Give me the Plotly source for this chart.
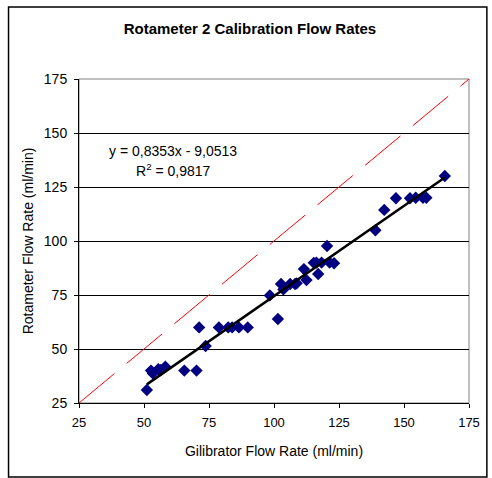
import plotly.graph_objects as go

gilibrator = [51.1, 52.7, 53.4, 55.5, 56.5, 58.2, 65.5, 70.2, 71.2, 73.7, 78.8, 82.4, 83.9, 86.5, 89.9,
              98.4, 101.5, 102.7, 103.6, 106.2, 108.1, 108.7, 111.5, 112.5, 115.3, 116.3, 117.0, 118.3,
              120.4, 121.4, 123.1, 139.0, 142.4, 146.9, 152.3, 154.5, 157.3, 158.6, 165.7]
rotameter = [31.0, 40.0, 38.7, 40.6, 40.3, 41.8, 40.0, 40.0, 60.0, 51.4, 60.0, 60.0, 60.0, 60.0, 60.0,
             74.8, 63.9, 80.1, 77.6, 80.1, 80.1, 80.4, 87.0, 81.9, 89.9, 90.0, 84.7, 90.0,
             97.7, 90.0, 89.7, 105.0, 114.4, 119.8, 119.8, 120.0, 120.0, 120.0, 130.1]
slope = 0.8353
intercept = -9.0513
axis_ticks = [25, 50, 75, 100, 125, 150, 175]

fit_x = [min(gilibrator), max(gilibrator)]
fit_y = [slope * v + intercept for v in fit_x]

FONT = "Liberation Sans, Arial, sans-serif"

fig = go.Figure()
fig.add_trace(go.Scatter(x=[25, 175], y=[25, 175], mode="lines",
                         line=dict(color="#ff0000", width=1, dash="46px,16px"),
                         showlegend=False, hoverinfo="skip"))
fig.add_trace(go.Scatter(x=gilibrator, y=rotameter, mode="markers",
                         marker=dict(symbol="diamond", size=9.5, color="#000080"),
                         showlegend=False))
fig.add_trace(go.Scatter(x=fit_x, y=fit_y, mode="lines",
                         line=dict(color="#000000", width=2.5),
                         showlegend=False, hoverinfo="skip"))

fig.update_layout(
    width=492, height=478,
    margin=dict(l=79, r=20, t=79, b=75),
    paper_bgcolor="white", plot_bgcolor="white",
    font=dict(family=FONT, size=13, color="#000000"),
    title=dict(text="<b>Rotameter 2 Calibration Flow Rates</b>",
               x=0.508, xref="container", xanchor="center",
               y=1 - 29 / 478, yref="container", yanchor="middle",
               font=dict(family=FONT, size=15, color="#000000")),
    xaxis=dict(range=[25, 175], tickvals=axis_ticks, showgrid=False, zeroline=False,
               showline=True, linecolor="#000000", linewidth=1, mirror=False,
               ticks="outside", ticklen=4, tickcolor="#000000", ticklabelstandoff=3,
               tickfont=dict(size=13), title=dict(text="Gilibrator Flow Rate (ml/min)",
                                                  standoff=17, font=dict(size=14))),
    yaxis=dict(range=[25, 175], tickvals=axis_ticks, showgrid=True, gridcolor="#000000",
               gridwidth=1, zeroline=False,
               showline=True, linecolor="#000000", linewidth=1,
               ticks="outside", ticklen=4, tickcolor="#000000", ticklabelstandoff=4,
               tickfont=dict(size=14), title=dict(text="Rotameter Flow Rate (ml/min)",
                                                  standoff=6, font=dict(size=14))),
    shapes=[
        dict(type="rect", xref="paper", yref="paper", x0=0, x1=1, y0=0, y1=1,
             line=dict(color="#808080", width=1), layer="below"),
        dict(type="rect", xref="paper", yref="paper",
             x0=(8 - 79) / 393, x1=(490 - 79) / 393,
             y0=(403 - 477) / 324, y1=(403 - 7) / 324,
             line=dict(color="#000000", width=1.5)),
    ],
    annotations=[
        dict(x=61.3, y=141.7, xref="x", yref="y", showarrow=False,
             text="y = 0,8353x - 9,0513", font=dict(size=14)),
        dict(x=61.3, y=132.9, xref="x", yref="y", showarrow=False,
             text="R<sup>2</sup> = 0,9817", font=dict(size=14)),
    ],
)

fig.write_html("out.html")
